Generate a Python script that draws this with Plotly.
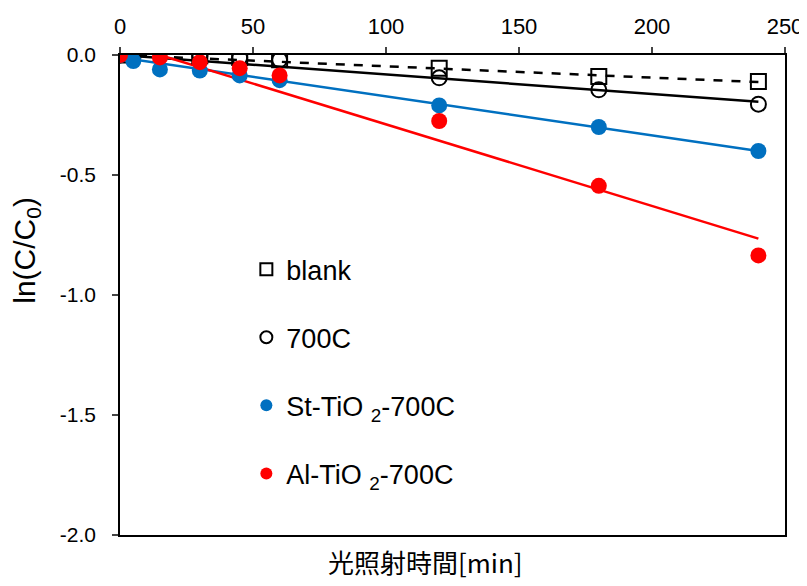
import plotly.graph_objects as go

# data
t_blank = [0, 30, 45, 60, 120, 180, 240]
y_blank = [0.0, -0.003, -0.01, -0.02, -0.055, -0.09, -0.11]
t_700 = [0, 5, 30, 45, 60, 120, 180, 240]
y_700 = [0.0, -0.002, -0.005, -0.012, -0.02, -0.095, -0.145, -0.205]
t_st = [0, 5, 15, 30, 45, 60, 120, 180, 240]
y_st = [0.0, -0.025, -0.06, -0.065, -0.085, -0.105, -0.21, -0.30, -0.40]
t_al = [0, 15, 30, 45, 60, 120, 180, 240]
y_al = [0.0, -0.01, -0.03, -0.055, -0.085, -0.275, -0.545, -0.835]

# trendline endpoints
tr_blank_x = [0, 240]; tr_blank_y = [0.0, -0.113]
tr_700_x = [0, 240]; tr_700_y = [0.0, -0.195]
tr_st_x = [0, 240]; tr_st_y = [-0.01, -0.40]
tr_al_x = [15, 240]; tr_al_y = [0.0, -0.765]

yticks = [0.0, -0.5, -1.0, -1.5, -2.0]
yticktext = ["0.0", "-0.5", "-1.0", "-1.5", "-2.0"]
xticks = [0, 50, 100, 150, 200, 250]

BLUE = "#0070C0"
RED = "#FF0000"
FONT = "Liberation Sans, Arial, sans-serif"

fig = go.Figure()
# trendlines
fig.add_trace(go.Scatter(x=tr_blank_x, y=tr_blank_y, mode="lines", showlegend=False,
                         line=dict(color="black", width=2.5, dash="dash")))
fig.add_trace(go.Scatter(x=tr_700_x, y=tr_700_y, mode="lines", showlegend=False,
                         line=dict(color="black", width=2.5)))
fig.add_trace(go.Scatter(x=tr_st_x, y=tr_st_y, mode="lines", showlegend=False,
                         line=dict(color=BLUE, width=2.5)))
fig.add_trace(go.Scatter(x=tr_al_x, y=tr_al_y, mode="lines", showlegend=False,
                         line=dict(color=RED, width=2.5)))
# markers
fig.add_trace(go.Scatter(x=t_blank, y=y_blank, mode="markers", name="blank", legendgroup="a",
                         marker=dict(symbol="square-open", size=15, color="black", line=dict(width=2))))
fig.add_trace(go.Scatter(x=t_700, y=y_700, mode="markers", name="700C", legendgroup="b",
                         marker=dict(symbol="circle-open", size=15, color="black", line=dict(width=2))))
fig.add_trace(go.Scatter(x=t_st, y=y_st, mode="markers", name="St-TiO <sub>2</sub>-700C", legendgroup="c",
                         marker=dict(symbol="circle", size=16, color=BLUE)))
fig.add_trace(go.Scatter(x=t_al, y=y_al, mode="markers", name="Al-TiO <sub>2</sub>-700C", legendgroup="d",
                         marker=dict(symbol="circle", size=16, color=RED)))

fig.update_layout(
    width=799, height=578,
    margin=dict(l=112, r=22, t=47, b=51, autoexpand=False),
    paper_bgcolor="white", plot_bgcolor="white",
    font=dict(family=FONT, size=20, color="black"),
    showlegend=True,
    legend=dict(x=0.19, y=0.604, xanchor="left", yanchor="top", bgcolor="rgba(0,0,0,0)",
                font=dict(size=27, family=FONT), tracegroupgap=30, itemsizing="constant"),
    xaxis=dict(range=[0, 250], side="top", tickvals=xticks, ticks="outside", ticklen=6,
               tickwidth=1.5, linecolor="black", linewidth=1.5, mirror=True, automargin=False,
               showgrid=False, zeroline=False, tickfont=dict(size=22), ticklabelstandoff=4),
    yaxis=dict(range=[-2.0, 0.0], tickvals=yticks, ticktext=yticktext, ticks="outside",
               ticklen=6, tickwidth=1.5, linecolor="black", linewidth=1.5, mirror=True,
               automargin=False, showgrid=False, zeroline=False, tickfont=dict(size=21),
               ticklabelstandoff=12),
    annotations=[
        dict(text="光照射時間[min]", x=0.46, y=-0.056, xref="paper", yref="paper",
             xanchor="center", yanchor="middle", showarrow=False,
             font=dict(family="Noto Sans CJK JP", size=26)),
        dict(text="ln(C/C<sub>0</sub>)", x=-0.14, y=0.594, xref="paper", yref="paper",
             xanchor="center", yanchor="middle", showarrow=False, textangle=-90,
             font=dict(family=FONT, size=30)),
    ],
)

fig.write_html("out.html")
